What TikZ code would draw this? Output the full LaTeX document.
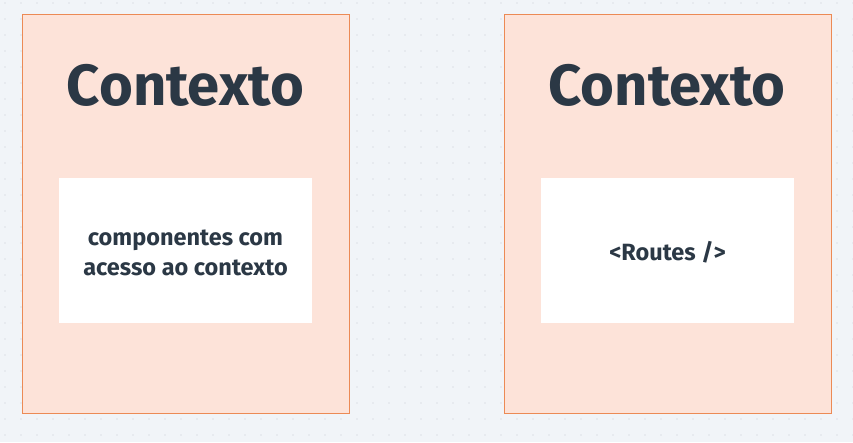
\documentclass[tikz,border=0pt]{standalone}
\usepackage{fontspec}
\setmainfont{Fira Sans}
\usepackage{xcolor}
\usepackage{tikz}
\usetikzlibrary{positioning}
\definecolor{ctxfill}{HTML}{FDE3D9}
\definecolor{ctxline}{HTML}{EC8A55}
\definecolor{inktext}{HTML}{2B3845}
\definecolor{canvas}{HTML}{F1F4F8}
\definecolor{griddot}{HTML}{C9CDD3}

\begin{document}
\begin{tikzpicture}[x=1pt,y=-1pt,
 ctxbox/.style={draw=ctxline,thick,fill=ctxfill,minimum width=327pt,minimum height=399pt,inner sep=0pt},
 innerbox/.style={fill=white,minimum width=253pt,minimum height=145pt,inner sep=0pt},
 ctxtitle/.style={text=inktext,font=\fontsize{58}{58}\selectfont\bfseries},
 label/.style={text=inktext,font=\fontsize{23.5}{30}\selectfont\bfseries,align=center}
]
\fill[canvas] (0,0) rectangle (853,442);
\useasboundingbox (0,0) rectangle (853,442);
\foreach \i in {0,...,53}
  \foreach \j in {0,...,27}
    \fill[griddot] (5+16*\i,3+16*\j) circle (0.7pt);
\node[ctxbox] (left) at (185.5,213.5) {};
\node[ctxbox] (right) at (668,213.5) {};
\node[ctxtitle] (lefttitle) at (185.5,85) {Contexto};
\node[ctxtitle] (righttitle) at (667,85) {Contexto};
\node[innerbox] (leftinner) at (185.5,250.5) {};
\node[innerbox] (rightinner) at (667.5,250.5) {};
\node[label] (comps) at (185.5,253) {componentes com\\acesso ao contexto};
\node[label] (routes) at (667.5,252) {<Routes />};
\end{tikzpicture}
\end{document}
